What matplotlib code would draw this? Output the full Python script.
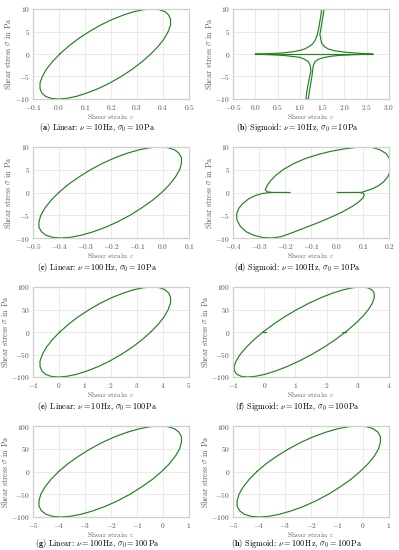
import numpy as np
import matplotlib
matplotlib.use("Agg")
import matplotlib.pyplot as plt

plt.rcParams['font.family'] = 'serif'
plt.rcParams['font.serif'] = ['cmr10']
plt.rcParams['mathtext.fontset'] = 'cm'
plt.rcParams['axes.formatter.use_mathtext'] = True
plt.rcParams['axes.unicode_minus'] = True

# ---------------- data ----------------
stress_10 = [0, 1.74, 3.42, 5.0, 6.43, 7.66, 8.66, 9.40, 9.85, 10, 9.85, 9.40, 8.66, 7.66, 6.43, 5.0, 3.42, 1.74,
             0, -1.74, -3.42, -5.0, -6.43, -7.66, -8.66, -9.40, -9.85, -10, -9.85, -9.40, -8.66, -7.66, -6.43, -5.0, -3.42, -1.74]
stress_100 = [0, 17.4, 34.2, 50.0, 64.3, 76.6, 86.6, 94.0, 98.5, 100, 98.5, 94.0, 86.6, 76.6, 64.3, 50.0, 34.2, 17.4,
              0, -17.4, -34.2, -50.0, -64.3, -76.6, -86.6, -94.0, -98.5, -100, -98.5, -94.0, -86.6, -76.6, -64.3, -50.0, -34.2, -17.4]

strain_a = [0.003, 0.037, 0.075, 0.117, 0.160, 0.204, 0.248, 0.288, 0.326, 0.359, 0.387, 0.408,
            0.422, 0.429, 0.429, 0.420, 0.405, 0.382, 0.353, 0.319, 0.281, 0.239, 0.196, 0.152,
            0.108, 0.068, 0.030, -0.003, -0.031, -0.052, -0.066, -0.073, -0.073, -0.064, -0.049, -0.026]
strain_c = [-0.401, -0.365, -0.323, -0.279, -0.232, -0.184, -0.136, -0.091, -0.049, -0.012, 0.019, 0.044,
            0.061, 0.071, 0.071, 0.064, 0.048, 0.025, -0.005, -0.041, -0.083, -0.127, -0.174, -0.222,
            -0.270, -0.315, -0.357, -0.394, -0.425, -0.450, -0.467, -0.477, -0.477, -0.470, -0.454, -0.431]
strain_e = [0.03, 0.37, 0.75, 1.17, 1.60, 2.04, 2.48, 2.88, 3.26, 3.59, 3.87, 4.08,
            4.22, 4.29, 4.29, 4.20, 4.05, 3.82, 3.53, 3.19, 2.81, 2.39, 1.96, 1.52,
            1.08, 0.68, 0.30, -0.03, -0.31, -0.52, -0.66, -0.73, -0.73, -0.64, -0.49, -0.26]
strain_f = [-0.038, 0.299, 0.664, 1.049, 1.443, 1.830, 2.201, 2.543, 2.849, 3.105, 3.308, 3.447,
            3.524, 3.531, 3.468, 3.342, 3.150, 2.903, 2.608, 2.271, 1.906, 1.521, 1.127, 0.740,
            0.369, 0.027, -0.279, -0.535, -0.738, -0.877, -0.954, -0.961, -0.898, -0.772, -0.580, -0.333]
strain_g = [-4.01, -3.65, -3.23, -2.79, -2.32, -1.84, -1.36, -0.91, -0.49, -0.12, 0.19, 0.44,
            0.61, 0.71, 0.71, 0.64, 0.48, 0.25, -0.05, -0.41, -0.83, -1.27, -1.74, -2.22,
            -2.70, -3.15, -3.57, -3.94, -4.25, -4.50, -4.67, -4.77, -4.77, -4.70, -4.54, -4.31]
strain_h = [-4.08, -3.72, -3.30, -2.85, -2.38, -1.90, -1.42, -0.97, -0.55, -0.18, 0.14, 0.39,
            0.57, 0.67, 0.67, 0.60, 0.44, 0.20, -0.11, -0.47, -0.89, -1.33, -1.80, -2.28,
            -2.76, -3.21, -3.63, -4.00, -4.31, -4.56, -4.74, -4.84, -4.84, -4.77, -4.61, -4.38]

# small spurs on the (f) loop where it crosses zero stress
f_spur1_strain = [-0.038, 0.07]
f_spur1_stress = [0.0, 0.0]
f_spur2_strain = [2.608, 2.49]
f_spur2_stress = [0.0, 0.0]

# panel (b): sigmoid, 10 Hz, 10 Pa
b_axis_strain = [0.0, 2.63]
b_axis_stress = [0.0, 0.0]
b_up_strain = [0.0, 0.25, 0.47, 0.65, 0.85, 1.0, 1.1, 1.18, 1.25, 1.30, 1.35, 1.39, 1.42, 1.445, 1.47, 1.49,
               1.545, 1.52, 1.495, 1.47, 1.45, 1.47, 1.49, 1.55, 1.64, 1.78, 1.98, 2.15, 2.35, 2.5, 2.63]
b_up_stress = [0.0, 0.06, 0.15, 0.28, 0.5, 0.8, 1.08, 1.5, 1.95, 2.4, 3.2, 4.3, 5.5, 7.0, 8.5, 10.0,
               10.0, 8.5, 7.0, 5.5, 4.4, 3.3, 2.4, 1.65, 1.1, 0.72, 0.45, 0.28, 0.15, 0.08, 0.03]
b_lo_strain = [0.0, 0.3, 0.62, 0.8, 1.0, 1.1, 1.19, 1.23, 1.25, 1.22, 1.19, 1.16, 1.135,
               1.19, 1.215, 1.245, 1.27, 1.285, 1.30, 1.34, 1.42, 1.53, 1.7, 1.9, 2.2, 2.45, 2.63]
b_lo_stress = [-0.03, -0.14, -0.3, -0.5, -0.74, -1.15, -1.7, -2.5, -3.6, -5.0, -6.5, -8.2, -10.0,
               -10.0, -8.2, -6.5, -5.0, -3.8, -2.6, -1.7, -1.15, -0.8, -0.5, -0.3, -0.15, -0.07, -0.02]

# panel (d): sigmoid, 100 Hz, 10 Pa
d_up_strain = [0.0, 0.09, 0.100, 0.112, 0.135, 0.160, 0.180, 0.196, 0.204, 0.206, 0.203, 0.190, 0.165,
               0.135, 0.105, 0.070, 0.030, -0.020, -0.070, -0.120, -0.165, -0.205, -0.235, -0.257,
               -0.270, -0.276, -0.268, -0.250, -0.18]
d_up_stress = [0.0, 0.02, 0.12, 0.35, 0.8, 1.5, 2.4, 3.5, 4.7, 6.0, 7.3, 8.5, 9.4,
               9.9, 10.0, 9.9, 9.6, 9.1, 8.4, 7.5, 6.4, 5.1, 3.8, 2.5,
               1.4, 0.6, 0.15, 0.02, 0.0]
d_lo_strain = [0.09, 0.102, 0.105, 0.098, 0.083, 0.060, 0.020, -0.030, -0.080, -0.130, -0.180, -0.215,
               -0.250, -0.285, -0.320, -0.350, -0.372, -0.385, -0.386, -0.378, -0.362, -0.340, -0.315,
               -0.290, -0.265, -0.25]
d_lo_stress = [-0.02, -0.2, -0.6, -1.3, -2.1, -3.0, -4.3, -5.6, -6.8, -7.9, -9.0, -9.7,
               -10.0, -9.9, -9.4, -8.6, -7.4, -6.0, -4.7, -3.5, -2.4, -1.4, -0.7,
               -0.25, -0.05, 0.0]

captions = [
    (r"$\mathbf{(a)}$ Linear: $\nu = 10\,\mathrm{Hz}$, $\sigma_0 = 10\,\mathrm{Pa}$"),
    (r"$\mathbf{(b)}$ Sigmoid: $\nu = 10\,\mathrm{Hz}$, $\sigma_0 = 10\,\mathrm{Pa}$"),
    (r"$\mathbf{(c)}$ Linear: $\nu = 100\,\mathrm{Hz}$, $\sigma_0 = 10\,\mathrm{Pa}$"),
    (r"$\mathbf{(d)}$ Sigmoid: $\nu = 100\,\mathrm{Hz}$, $\sigma_0 = 10\,\mathrm{Pa}$"),
    (r"$\mathbf{(e)}$ Linear: $\nu = 10\,\mathrm{Hz}$, $\sigma_0 = 100\,\mathrm{Pa}$"),
    (r"$\mathbf{(f)}$ Sigmoid: $\nu = 10\,\mathrm{Hz}$, $\sigma_0 = 100\,\mathrm{Pa}$"),
    (r"$\mathbf{(g)}$ Linear: $\nu = 100\,\mathrm{Hz}$, $\sigma_0 = 100\,\mathrm{Pa}$"),
    (r"$\mathbf{(h)}$ Sigmoid: $\nu = 100\,\mathrm{Hz}$, $\sigma_0 = 100\,\mathrm{Pa}$"),
]
xticks = [
    [-0.1, 0.0, 0.1, 0.2, 0.3, 0.4, 0.5],
    [-0.5, 0.0, 0.5, 1.0, 1.5, 2.0, 2.5, 3.0],
    [-0.5, -0.4, -0.3, -0.2, -0.1, 0.0, 0.1],
    [-0.4, -0.3, -0.2, -0.1, 0.0, 0.1, 0.2],
    [-1, 0, 1, 2, 3, 4, 5],
    [-1, 0, 1, 2, 3, 4],
    [-5, -4, -3, -2, -1, 0, 1],
    [-5, -4, -3, -2, -1, 0, 1],
]
yticks_10 = [-10, -5, 0, 5, 10]
yticks_100 = [-100, -50, 0, 50, 100]

# ---------------- figure ----------------
W, H = 399, 550
fig = plt.figure(figsize=(W / 100, H / 100), dpi=100)
fig.patch.set_facecolor('white')

col_left = [33, 233]
ax_w = 156
rows = [(9, 99), (147, 238), (287, 377), (426, 517)]
cap_y = [127.5, 267.5, 406.5, 544.0]
cap_x = [97, 297]
ylab_right = [13.5, 13.5, 10.0, 10.0]   # px from subfigure left: right edge of rotated y label

green = '#22821f'
tick_col = '#4d4d4d'
lab_col = '#5f5f5f'

def closed(v):
    return list(v) + [v[0]]

panels = []
for i in range(8):
    r, c = divmod(i, 2)
    top, bot = rows[r]
    ax = fig.add_axes([col_left[c] / W, 1 - bot / H, ax_w / W, (bot - top) / H])
    panels.append(ax)

lines = {
    0: [(closed(strain_a), closed(stress_10))],
    1: [(b_axis_strain, b_axis_stress), (b_up_strain, b_up_stress), (b_lo_strain, b_lo_stress)],
    2: [(closed(strain_c), closed(stress_10))],
    3: [(d_up_strain, d_up_stress), (d_lo_strain, d_lo_stress)],
    4: [(closed(strain_e), closed(stress_100))],
    5: [(closed(strain_f), closed(stress_100)), (f_spur1_strain, f_spur1_stress),
        (f_spur2_strain, f_spur2_stress)],
    6: [(closed(strain_g), closed(stress_100))],
    7: [(closed(strain_h), closed(stress_100))],
}

for i, ax in enumerate(panels):
    r, c = divmod(i, 2)
    top, bot = rows[r]
    h = bot - top
    for xs, ys in lines[i]:
        ax.plot(xs, ys, color=green, lw=0.85, solid_joinstyle='round', solid_capstyle='round')
    xt = xticks[i]
    ax.set_xlim(xt[0], xt[-1])
    ax.set_xticks(xt)
    yt = yticks_10 if r < 2 else yticks_100
    ax.set_ylim(yt[0], yt[-1])
    ax.set_yticks(yt)
    ax.grid(True, color='#e6e6e6', lw=0.6)
    ax.set_axisbelow(True)
    for s in ax.spines.values():
        s.set_color('#cfcfcf')
        s.set_linewidth(0.9)
    ax.tick_params(axis='x', length=0, pad=3.0, labelsize=5.3, colors=tick_col)
    ax.tick_params(axis='y', length=0, pad=2.2, labelsize=5.3, colors=tick_col)
    ax.set_xlabel(r"Shear strain $\varepsilon$", fontsize=5.4, color=lab_col)
    ax.xaxis.set_label_coords(0.5, -12.9 / h)
    ax.set_ylabel(r"Shear stress $\sigma$ in Pa", fontsize=5.8, color=lab_col)
    ax.yaxis.set_label_coords((ylab_right[r] - 33) / ax_w, 0.5)
    fig.text(cap_x[c] / W, 1 - cap_y[r] / H, captions[i], ha='center', va='center',
             fontsize=5.9, color='black')

fig.savefig("out.png", dpi=100, facecolor='white')
